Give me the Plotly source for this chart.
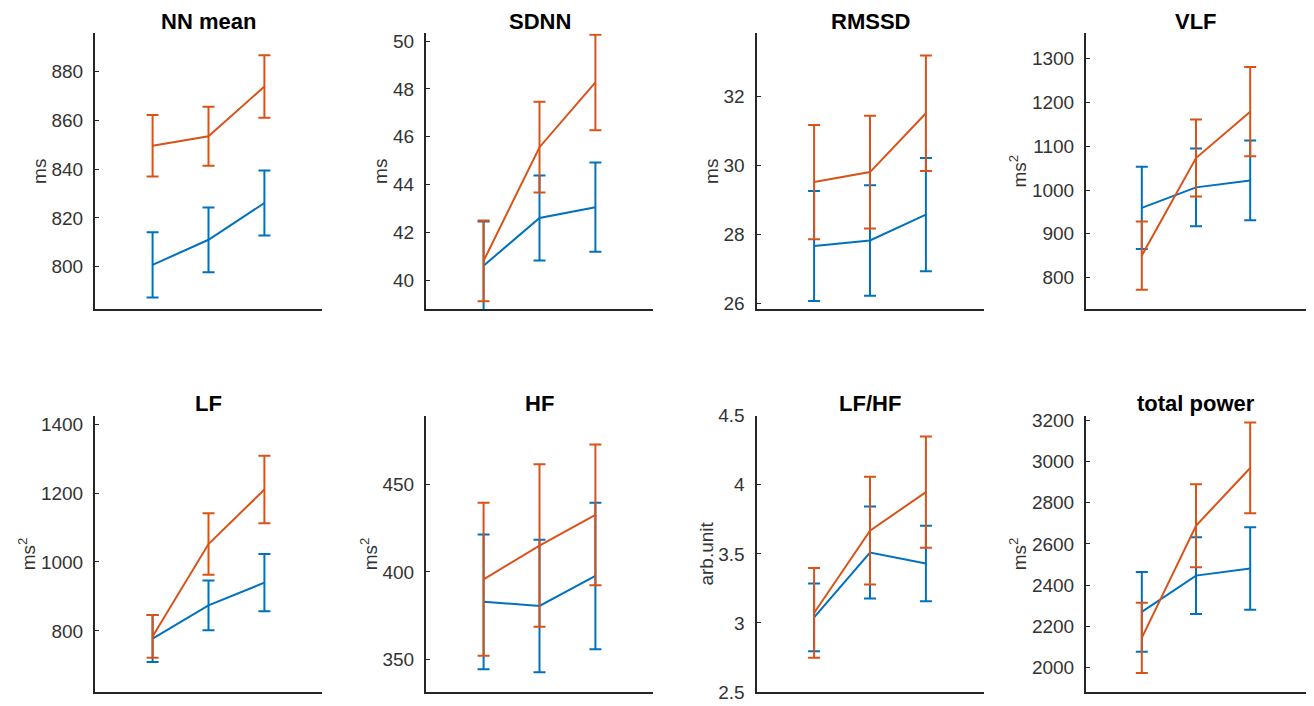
import plotly.graph_objects as go
from plotly.subplots import make_subplots

conditions = [1, 2, 3]

titles = ["NN mean", "SDNN", "RMSSD", "VLF", "LF", "HF", "LF/HF", "total power"]
ylabels = ["ms", "ms", "ms", "ms<sup>2</sup>",
           "ms<sup>2</sup>", "ms<sup>2</sup>", "arb.unit", "ms<sup>2</sup>"]

# blue series / orange series, mean and error per condition
nn_mean_blue = [800.7, 811.0, 826.1]
nn_mean_blue_err = [13.4, 13.3, 13.3]
nn_mean_orange = [849.6, 853.5, 873.9]
nn_mean_orange_err = [12.6, 12.1, 12.8]

sdnn_blue = [40.6, 42.6, 43.05]
sdnn_blue_err = [1.85, 1.78, 1.87]
sdnn_orange = [40.8, 45.56, 48.27]
sdnn_orange_err = [1.69, 1.9, 2.0]

rmssd_blue = [27.66, 27.82, 28.57]
rmssd_blue_err = [1.59, 1.6, 1.64]
rmssd_orange = [29.51, 29.8, 31.5]
rmssd_orange_err = [1.65, 1.63, 1.67]

vlf_blue = [959, 1006, 1022]
vlf_blue_err = [94, 89, 91]
vlf_orange = [850, 1073, 1179]
vlf_orange_err = [78, 88, 102]

lf_blue = [778, 874, 940]
lf_blue_err = [68, 72, 83]
lf_orange = [784, 1052, 1210]
lf_orange_err = [62, 89, 98]

hf_blue = [383, 380.6, 397.7]
hf_blue_err = [38.4, 37.7, 41.7]
hf_orange = [395.8, 415, 432.5]
hf_orange_err = [43.6, 46.3, 40.1]

lfhf_blue = [3.04, 3.51, 3.43]
lfhf_blue_err = [0.245, 0.333, 0.273]
lfhf_orange = [3.072, 3.668, 3.947]
lfhf_orange_err = [0.325, 0.39, 0.403]

tp_blue = [2270, 2446, 2481]
tp_blue_err = [193, 186, 200]
tp_orange = [2144, 2688, 2968]
tp_orange_err = [170, 201, 220]

blue_means = [nn_mean_blue, sdnn_blue, rmssd_blue, vlf_blue,
              lf_blue, hf_blue, lfhf_blue, tp_blue]
blue_errs = [nn_mean_blue_err, sdnn_blue_err, rmssd_blue_err, vlf_blue_err,
             lf_blue_err, hf_blue_err, lfhf_blue_err, tp_blue_err]
orange_means = [nn_mean_orange, sdnn_orange, rmssd_orange, vlf_orange,
                lf_orange, hf_orange, lfhf_orange, tp_orange]
orange_errs = [nn_mean_orange_err, sdnn_orange_err, rmssd_orange_err, vlf_orange_err,
               lf_orange_err, hf_orange_err, lfhf_orange_err, tp_orange_err]

tick_values = [
    [800, 820, 840, 860, 880],
    [40, 42, 44, 46, 48, 50],
    [26, 28, 30, 32],
    [800, 900, 1000, 1100, 1200, 1300],
    [800, 1000, 1200, 1400],
    [350, 400, 450],
    [2.5, 3, 3.5, 4, 4.5],
    [2000, 2200, 2400, 2600, 2800, 3000, 3200],
]
tick_labels = [[f"{v:g}" for v in vals] for vals in tick_values]

y_ranges = [
    [782.6, 895.7], [38.79, 50.32], [25.84, 33.81], [728, 1358],
    [623, 1424], [331.6, 489], [2.5, 4.5], [1882, 3221],
]

BLUE = "#0072BD"
ORANGE = "#D95319"
AXIS = "#262626"
TEXT = "#333333"

# how the page ends up on screen: div at (~7, ~17), height squeezed a little
OX, OY, SY = 7, 17, 0.972
W, H = 1298, 706

# screen positions (px) of the axes boxes in the target picture
col_left = [94, 425, 755.5, 1085]
col_width = 227
row_top = [32, 415]
row_bottom = [308, 691.7]
title_y = [20, 403]


def fx(px):
    return min(max((px - OX) / W, 0), 1)


def fy(py):
    return min(max(1 - (py / SY - OY) / H, 0), 1)


fig = make_subplots(rows=2, cols=4)

for i in range(8):
    r, c = i // 4 + 1, i % 4 + 1
    for means, errs, color in ((blue_means[i], blue_errs[i], BLUE),
                               (orange_means[i], orange_errs[i], ORANGE)):
        fig.add_trace(go.Scatter(
            x=conditions, y=means, mode="lines",
            line=dict(color=color, width=2),
            error_y=dict(type="data", array=errs, visible=True,
                         color=color, thickness=2, width=6),
            showlegend=False, cliponaxis=False,
        ), row=r, col=c)

    x0 = fx(col_left[c - 1])
    x1 = fx(col_left[c - 1] + col_width)
    y0 = fy(row_bottom[r - 1])
    y1 = fy(row_top[r - 1])
    fig.update_xaxes(domain=[x0, x1], range=[-0.03, 4.03],
                     showline=True, linecolor=AXIS, linewidth=2,
                     showticklabels=False, ticks="", showgrid=False,
                     zeroline=False, row=r, col=c)
    fig.update_yaxes(domain=[y0, y1], range=y_ranges[i],
                     tickvals=tick_values[i], ticktext=tick_labels[i],
                     showline=True, linecolor=AXIS, linewidth=2,
                     ticks="inside", ticklen=4, tickwidth=1, tickcolor=AXIS,
                     showgrid=False, zeroline=False,
                     tickfont=dict(size=19, color=TEXT),
                     ticklabelstandoff=6,
                     title=dict(text=ylabels[i], font=dict(size=19, color=TEXT),
                                standoff=0),
                     row=r, col=c)
    fig.add_annotation(
        text=f"<b>{titles[i]}</b>", showarrow=False,
        x=(x0 + x1) / 2, y=fy(title_y[r - 1]),
        xref="paper", yref="paper", xanchor="center", yanchor="middle",
        font=dict(size=22, color="#000000"),
    )

fig.update_layout(
    width=W, height=H,
    margin=dict(l=0, r=0, t=0, b=0),
    plot_bgcolor="white", paper_bgcolor="white",
    font=dict(family="Liberation Sans, Arial, sans-serif"),
)

fig.write_html("out.html")
